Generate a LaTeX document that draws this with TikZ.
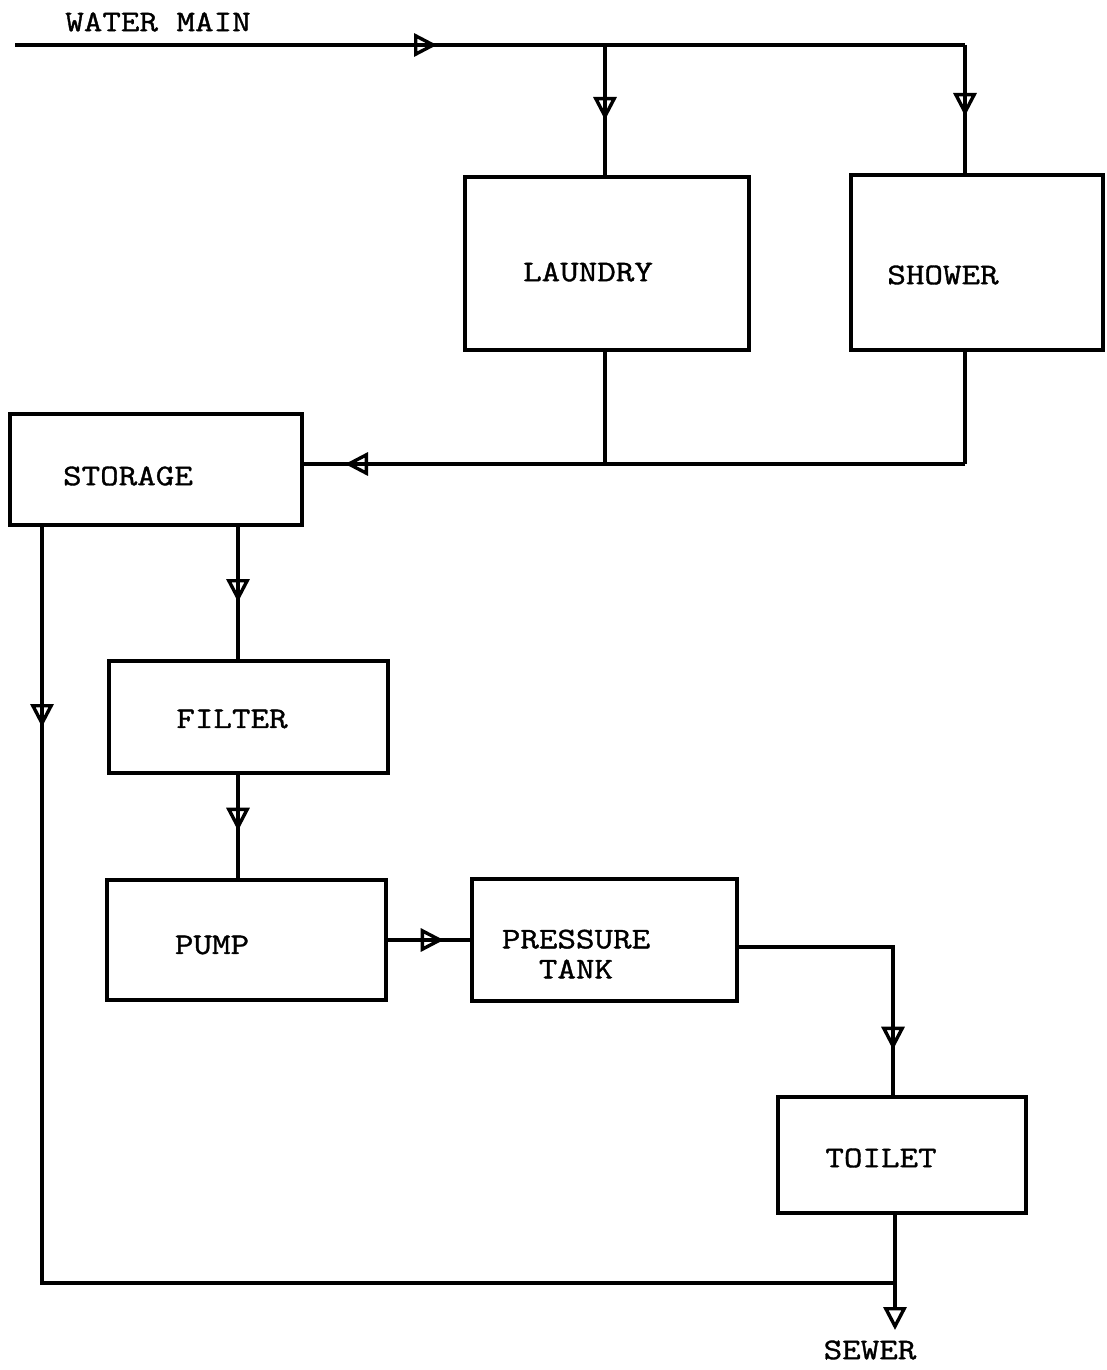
\documentclass[tikz,border=0pt]{standalone}
\usepackage{fontspec}
\newfontfamily\tw{Latin Modern Mono}[FakeStretch=1.2,FakeBold=1.2]
\usetikzlibrary{arrows.meta,decorations.markings}
\tikzset{
  box/.style={draw, line width=3.4pt, rectangle, inner sep=0pt},
  lbl/.style={font=\tw\fontsize{30}{34}\selectfont, inner sep=0pt, align=center},
  pipe/.style={line width=3.2pt},
  tipstyle/.tip={Triangle[open,length=23pt,width=23pt,line width=3.4pt]},
  midarr/.style={postaction={decorate}, decoration={markings, mark=at position #1 with {\arrow{tipstyle}}}}
}
\begin{document}
\begin{tikzpicture}[x=1pt,y=-1pt]
\useasboundingbox (0,0) rectangle (1106,1370);
% boxes
\node[box, minimum width=284pt, minimum height=173pt] (laundry) at (607,263.5) {};
\node[box, minimum width=252pt, minimum height=175pt] (shower) at (977,262.5) {};
\node[box, minimum width=292pt, minimum height=111pt] (storage) at (156,469.5) {};
\node[box, minimum width=279pt, minimum height=112pt] (filter) at (248.5,717) {};
\node[box, minimum width=279pt, minimum height=120pt] (pump) at (246.5,940) {};
\node[box, minimum width=265pt, minimum height=122pt] (ptank) at (604.5,940) {};
\node[box, minimum width=248pt, minimum height=116pt] (toilet) at (902,1155) {};
% labels
\node[lbl] (wmt) at (158,22) {WATER MAIN};
\node[lbl] (laundryt) at (588,272) {LAUNDRY};
\node[lbl] (showert) at (943,275) {SHOWER};
\node[lbl] (storaget) at (128,476) {STORAGE};
\node[lbl] (filtert) at (232,719) {FILTER};
\node[lbl] (pumpt) at (212,945) {PUMP};
\node[lbl] (ptankt) at (576,954) {PRESSURE\\[-4pt]TANK};
\node[lbl] (toilett) at (881,1158) {TOILET};
\node[lbl] (sewert) at (870,1350) {SEWER};
% coordinates
\coordinate (wm) at (15,45);
\coordinate (j1) at (605,45);
\coordinate (j2) at (965,45);
\coordinate (j3) at (605,464);
\coordinate (j4) at (965,464);
\coordinate (s1) at (238,525);
\coordinate (s2) at (42,525);
\coordinate (b1) at (42,1283);
\coordinate (b2) at (895,1283);
\coordinate (t1) at (893,947);
\coordinate (sewer) at (895,1330);
% connectors
\draw[pipe, midarr=422pt] (wm) -- (j2);
\draw[pipe, midarr=75pt] (j1) -- (j1 |- laundry.north);
\draw[pipe, midarr=71pt] (j2) -- (j2 |- shower.north);
\draw[pipe] (j3 |- laundry.south) -- (j3);
\draw[pipe] (j4 |- shower.south) -- (j4);
\draw[pipe, midarr=620pt] (j4) -- (storage.east |- j4);
\draw[pipe, midarr=77pt] (s1) -- (s1 |- filter.north);
\draw[pipe, midarr=202pt] (s2) -- (b1) -- (b2);
\draw[pipe, midarr=56pt] (s1 |- filter.south) -- (s1 |- pump.north);
\draw[pipe, midarr=56pt] (pump.east) -- (ptank.west);
\draw[pipe, midarr=257pt] (ptank.east |- t1) -- (t1) -- (t1 |- toilet.north);
\draw[pipe, -{tipstyle}] (toilet.south -| sewer) -- (sewer);
\end{tikzpicture}
\end{document}
